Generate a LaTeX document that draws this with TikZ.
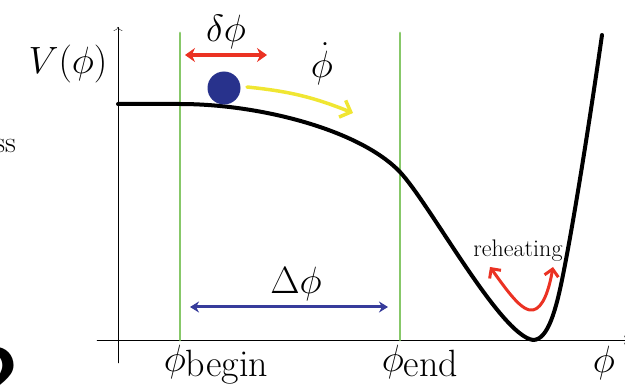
\RequirePackage{fix-cm}
\documentclass[tikz,border=0pt]{standalone}
\usetikzlibrary{arrows.meta}
\definecolor{lgreen}{RGB}{135,200,105}
\definecolor{hotred}{RGB}{235,50,35}
\definecolor{lemon}{RGB}{240,230,50}
\definecolor{navy}{RGB}{40,50,140}
\definecolor{arrowblue}{RGB}{55,60,155}
\newcommand{\lowsub}[1]{\raisebox{-5pt}{#1}}
\tikzset{
  biglbl/.style={font=\fontsize{38}{40}\selectfont, inner sep=0pt},
  fatarrow/.style={line width=3.5pt, -{Straight Barb[length=9pt,width=18pt]}},
  bound/.style={lgreen, line width=2.8pt}
}
\begin{document}
\begin{tikzpicture}[x=1pt, y=-1pt, line cap=round, line join=round, >={To[length=4pt,width=9pt]}]
			\useasboundingbox (0,0) rectangle (625,385);
			% Define axis origin and the two boundaries
			\def\xO{118} \def\yO{340}
			\def\xB{180} \def\xE{400}
			
			% Cut-off text at the left margin
			\node[anchor=east, font=\fontsize{30}{32}\selectfont, inner sep=0pt] (cutss) at (16,146) {ss};
			\node[anchor=north east, font=\fontsize{80}{80}\sffamily\bfseries, inner sep=0pt] (cuttwo) at (19,347) {2};
			
			% Draw Axes
			\coordinate (ybot) at (\xO,363);
			\coordinate (ytop) at (\xO,27);
			\coordinate (xleft) at (97,\yO);
			\coordinate (xright) at (628,\yO);
			\draw[->, thin] (ybot) -- (ytop);
			\draw[->, thin] (xleft) -- (xright);
			
			% Boundaries phi_begin and phi_end
			\draw[bound] (\xB,\yO) -- (\xB,33);
			\draw[bound] (\xE,\yO) -- (\xE,33);
			
			% Potential V(phi): plateau, slope, minimum, steep wall
			\draw[line width=4pt] (118,104) -- (180,104)
				.. controls (260,104) and (360,130) .. (400,172)
				.. controls (430,204) and (500,335) .. (533,340)
				.. controls (548,340) and (556,310) .. (563,275)
				.. controls (575,215) and (592,105) .. (602,35);
			
			% Labels on Axes
			\node[biglbl] (Vlab) at (68,64) {$V(\phi)$};
			\node[biglbl, anchor=base] (beginlab) at (216,372) {$\phi$\lowsub{begin}};
			\node[biglbl, anchor=base] (endlab) at (420,372) {$\phi$\lowsub{end}};
			\node[biglbl, anchor=base] (philab) at (604,373) {$\phi$};
			
			% Rolling ball and its velocity
			\node[circle, fill=navy, minimum size=33pt, inner sep=0pt] (ball) at (224,88) {};
			\coordinate (vtail) at (247,87);
			\coordinate (vhead) at (353,113);
			\draw[lemon, fatarrow] (vtail) to[bend left=8] (vhead);
			\node[biglbl] (dotlab) at (322,64) {$\dot\phi$};
			
			% Fluctuation delta phi
			\coordinate (dl) at (185,55);
			\coordinate (dr) at (267,55);
			\draw[hotred, line width=3.5pt, {Stealth[length=10pt,width=14pt]}-{Stealth[length=10pt,width=14pt]}] (dl) -- (dr);
			\node[biglbl] (deltalab) at (226,32) {$\delta\phi$};
			
			% Field range Delta phi
			\coordinate (Dl) at (190,307);
			\coordinate (Dr) at (388,307);
			\draw[arrowblue, line width=3pt, {Stealth[length=9pt,width=11pt]}-{Stealth[length=9pt,width=11pt]}] (Dl) -- (Dr);
			\node[biglbl] (Deltalab) at (296,284) {$\Delta\phi$};
			
			% Reheating oscillation
			\coordinate (rl) at (490,267);
			\coordinate (rm) at (533,310);
			\coordinate (rr) at (553,267);
			\draw[hotred, line width=3pt, {Straight Barb[length=7pt,width=14pt]}-{Straight Barb[length=7pt,width=14pt]}]
				(rl) .. controls (508,292) and (522,312) .. (rm) .. controls (543,308) and (549,290) .. (rr);
			\node[font=\fontsize{24}{26}\selectfont] (reheat) at (518,251) {reheating};
		\end{tikzpicture}
\end{document}
